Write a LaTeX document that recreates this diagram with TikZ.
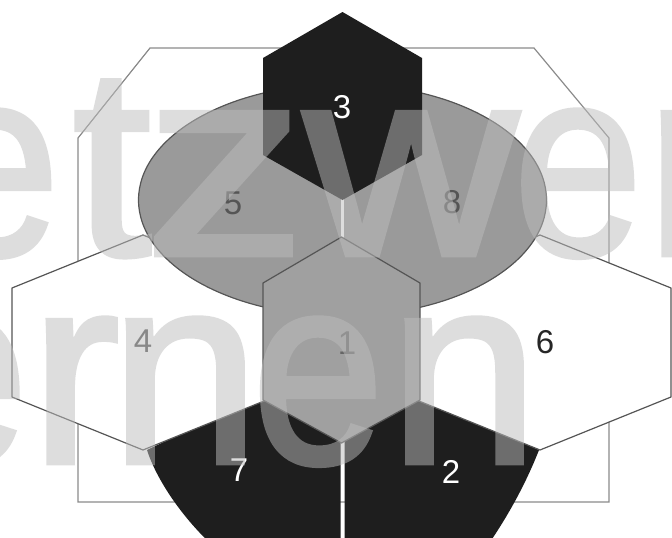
\documentclass[tikz,border=0pt]{standalone}
\usepackage{fontspec}
\setmainfont{Liberation Sans}
\newfontfamily\stampfont[FakeBold=1.8]{Liberation Sans}
\usepackage{tikz}
\definecolor{InkBlack}{HTML}{1E1E1E}
\definecolor{PlateGray}{HTML}{9A9A9A}
\definecolor{CoreGray}{HTML}{A0A0A0}
\definecolor{EdgeGray}{HTML}{555555}
\definecolor{FrameGray}{HTML}{8A8A8A}
\definecolor{StampGray}{HTML}{BCBCBC}

\begin{document}
\begin{tikzpicture}[x=1pt, y=-1pt,
  hexline/.style={draw=EdgeGray, line width=1.2pt, line join=round},
  num/.style={font=\fontsize{33}{33}\selectfont, inner sep=0pt},
  stamp/.style={font=\stampfont\fontsize{270}{270}\selectfont, text=StampGray,
                inner sep=0pt, anchor=base}
]
\clip (0,0) rectangle (672,538);
% frame behind everything
\draw[FrameGray, line width=1.2pt] (78,502) -- (78,138) -- (150,48) -- (534,48) -- (609,138) -- (609,502) -- cycle;
% lower black halves
\fill[InkBlack] (147,450) .. controls (156,478) and (180,515) .. (212,545) -- (340.5,545) -- (340.5,395) -- (262,395) -- cycle;
\fill[InkBlack] (539,450) .. controls (528,478) and (512,510) .. (488,545) -- (344.5,545) -- (344.5,395) -- (420,395) -- cycle;
% side hexagons
\filldraw[hexline, fill=white] (12,288) -- (143,235) -- (274,288) -- (274,397) -- (143,450) -- (12,397) -- cycle;
\filldraw[hexline, fill=white] (671,288) -- (540,235) -- (409,288) -- (409,397) -- (540,450) -- (671,397) -- cycle;
% ellipse, split in two
\filldraw[draw=EdgeGray, line width=1.2pt, fill=PlateGray] (342.5,200) ellipse [x radius=204, y radius=116];
\draw[white, line width=2.5pt] (342.5,80) -- (342.5,320);
% top and centre hexagons
\fill[InkBlack] (342.5,12) -- (422,58) -- (422,155) -- (342.5,200) -- (263,155) -- (263,58) -- cycle;
\filldraw[hexline, fill=CoreGray] (341.5,237) -- (420,283) -- (420,400) -- (341.5,443) -- (263,400) -- (263,283) -- cycle;

\node[num, text=white] (n3) at (342,107) {3};
\node[num, text=EdgeGray] (n5) at (233,203) {5};
\node[num, text=EdgeGray] (n8) at (452,202) {8};
\node[num, text=EdgeGray] (n4) at (143,341) {4};
\node[num, text=black!85] (n6) at (545,342) {6};
\node[num, text=black!60] (n1) at (347,343) {1};
\node[num, text=white] (n7) at (239,470) {7};
\node[num, text=white] (n2) at (451,472) {2};

% stamp letters over the picture
\begin{scope}[transparency group, opacity=0.5]
\foreach \ch/\px/\py/\sx [count=\i] in {e/-5/255/0.86, t/112/255/1.05, z/225/255/1.2, w/411/255/1.1,
                                        e/578/255/0.86, r/690/255/1, e/-38/463/0.88, r/75/463/1,
                                        n/185/463/1, e/318/463/0.88, n/464/463/1}
  \node[stamp] (wm\i) at (\px,\py) {\scalebox{\sx}[1]{\ch}};
\end{scope}
\end{tikzpicture}
\end{document}
